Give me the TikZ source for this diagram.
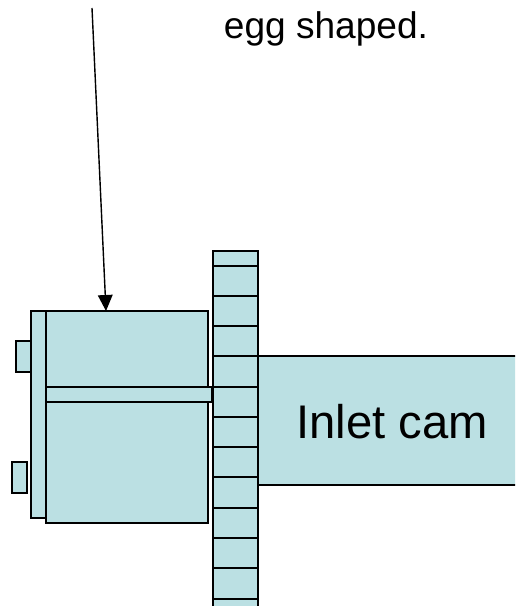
\documentclass[tikz,border=0pt]{standalone}
\usepackage{fontspec}
\setmainfont{Liberation Sans}
\usetikzlibrary{arrows.meta}
\definecolor{camblue}{HTML}{BBE0E3}

\begin{document}
\begin{tikzpicture}[
  x=0.75pt, y=-0.75pt,
  part/.style={draw, fill=camblue, line width=1.3pt, inner sep=0pt},
  tooth/.style={part, minimum width=33.75pt, minimum height=22.7pt},
  label/.style={inner sep=0pt, anchor=base, font=\fontsize{35.4}{40}\selectfont},
  flow/.style={-{Triangle[length=12pt, width=11pt]}, line width=1.05pt}
]
\useasboundingbox (0,0) rectangle (515,606);
\clip (0,0) rectangle (515,606);
% Camshaft
\node[part, minimum width=196.5pt, minimum height=96.4pt] (cam) at (389, 420.5) {};
% Gear teeth
\node[part, minimum width=33.75pt, minimum height=11.2pt] (t0) at (235.5, 258.5) {};
\node[tooth] (t1) at (235.5, 281) {};
\node[tooth] (t2) at (235.5, 311) {};
\node[tooth] (t3) at (235.5, 341.2) {};
\node[tooth] (t4) at (235.5, 371.7) {};
\node[tooth] (t5) at (235.5, 402) {};
\node[tooth] (t6) at (235.5, 432) {};
\node[tooth] (t7) at (235.5, 462.2) {};
\node[tooth] (t8) at (235.5, 492.7) {};
\node[tooth] (t9) at (235.5, 523) {};
\node[tooth] (t10) at (235.5, 553.2) {};
\node[tooth] (t11) at (235.5, 583.7) {};
\node[tooth] (t12) at (235.5, 614) {};
% Actuator
\node[part, minimum width=11.25pt, minimum height=23.25pt] (stud1) at (23.5, 356.5) {};
\node[part, minimum width=11.25pt, minimum height=23.25pt] (stud2) at (19.5, 477.5) {};
\node[part, minimum width=11.25pt, minimum height=155.25pt] (plate) at (38.5, 414.5) {};
\node[part, minimum width=121.5pt, minimum height=159pt] (body) at (127, 417) {};
\node[part, minimum width=124.5pt, minimum height=11.25pt] (bar) at (129, 394.5) {};
% Labels
\node[label] (inlet) at (392, 438) {Inlet cam};
\node[label, font=\fontsize{27.8}{32}\selectfont] (egg) at (326, 39) {egg shaped.};
% Arrow
\coordinate (arrowstart) at (92, 8);
\coordinate (arrowtip) at (106, 311);
\draw[flow] (arrowstart) -- (arrowtip);
\end{tikzpicture}
\end{document}
